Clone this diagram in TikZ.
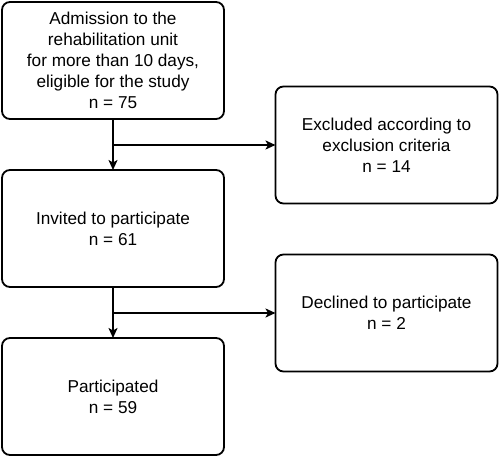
\documentclass[tikz,border=0pt]{standalone}
\usepackage{fontspec}
\setmainfont{Liberation Sans}
\usetikzlibrary{arrows.meta}

\begin{document}
\begin{tikzpicture}[x=1pt,y=-1pt,
        box/.style={draw,line width=1.8pt,rounded corners=8pt,minimum width=222pt,minimum height=117pt,
            align=center,inner sep=0pt,outer sep=0pt,font=\fontsize{17.2}{21}\selectfont},
        flow/.style={line width=1.8pt,-{Stealth[length=10pt,width=9pt,inset=2.5pt]}}]
                \useasboundingbox (0,0) rectangle (500,457);
                \node[box] (admit) at (113,60.5) {Admission to the\\rehabilitation unit\\for more than 10 days,\\eligible for the study\\n = 75};
                \node[box] (excl) at (386.5,145) {Excluded according to\\exclusion criteria\\n = 14};
                \node[box] (invite) at (113,228.5) {Invited to participate\\n = 61};
                \node[box] (decl) at (386.5,313) {Declined to participate\\n = 2};
                \node[box] (part) at (113,396.5) {Participated\\n = 59};
                \coordinate (split1) at (admit.south |- excl.west);
                \coordinate (split2) at (invite.south |- decl.west);
                \draw[flow] (admit) -- (invite);
                \draw[flow] (split1) -- (excl);
                \draw[flow] (invite) -- (part);
                \draw[flow] (split2) -- (decl);
            \end{tikzpicture}
\end{document}
